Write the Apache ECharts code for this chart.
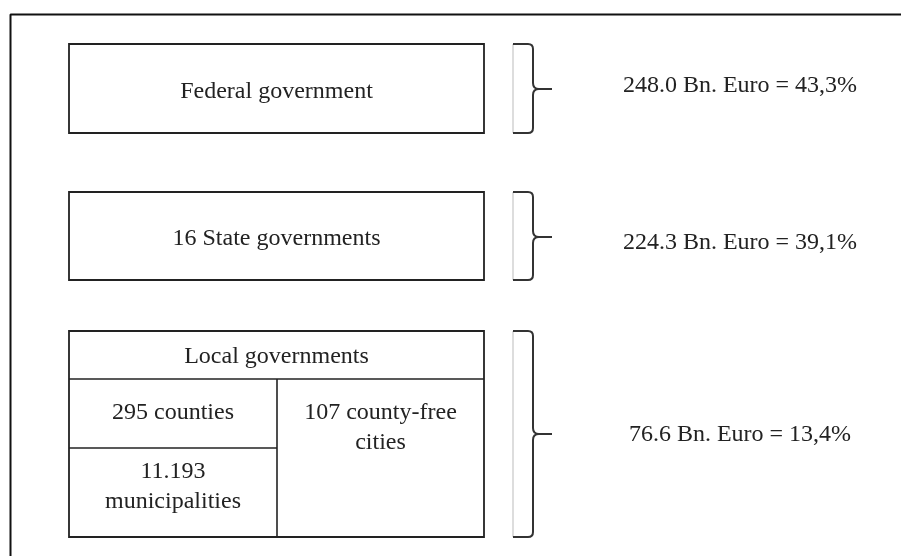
<!DOCTYPE html>
<html><head><meta charset="utf-8">
<script src="https://cdn.jsdelivr.net/npm/echarts@6/dist/echarts.min.js"></script>
<style>html,body{margin:0;padding:0;background:#fff}#chart{width:901px;height:556px}</style>
</head><body><div id="chart"></div>
<script>
// ---- data ----
const tiers = ['Federal government', '16 State governments', 'Local governments'];
const amountsBn = [248.0, 224.3, 76.6];
const sharesPct = [43.3, 39.1, 13.4];
const localUnits = ['295 counties', '11.193\nmunicipalities', '107 county-free\ncities'];

// ---- layout (axis units) ----
const tierBoxes = [[69, 44, 484, 133], [69, 192, 484, 280], [69, 331, 484, 537]];
const tierTextY = [92, 239, 357];
const braceX = [513, 533, 552];
const braceMidY = [89, 237, 434];
const labelCenter = [740, [86, 243, 435]];
const localHeaderBottom = 379;
const localSplitX = 277;
const localSplitY = 448;
const localTextPos = [[173, 413], [173, 487], [380.5, 428]];
const framePts = [[10.5, 556], [10.5, 14.5], [901, 14.5]];

const FONT = '24px "Liberation Serif", "Times New Roman", serif';
const INK = '#222';

function fmtLabel(i) {
  return amountsBn[i].toFixed(1) + ' Bn. Euro = ' + sharesPct[i].toFixed(1).replace('.', ',') + '%';
}

function txt(api, pt, text) {
  const p = api.coord(pt);
  return { type: 'text', style: { text: text, x: p[0], y: p[1], font: FONT, fill: INK, align: 'center', verticalAlign: 'middle', lineHeight: 30 } };
}
function seg(api, a, b, w, color) {
  const p = api.coord(a), q = api.coord(b);
  return { type: 'line', shape: { x1: p[0], y1: p[1], x2: q[0], y2: q[1] }, style: { stroke: color || INK, lineWidth: w || 1.6 } };
}

const chart = echarts.init(document.getElementById('chart'), null, { renderer: 'canvas' });
chart.setOption({
  animation: false,
  backgroundColor: '#fff',
  grid: { left: 0, right: 0, top: 0, bottom: 0 },
  xAxis: { type: 'value', min: 0, max: 901, show: false },
  yAxis: { type: 'value', min: 0, max: 556, inverse: true, show: false },
  series: [
    {
      type: 'custom',
      coordinateSystem: 'cartesian2d',
      silent: true,
      data: tiers.map((t, i) => [i]),
      renderItem: function (params, api) {
        const i = api.value(0);
        const b = tierBoxes[i];
        const p0 = api.coord([b[0], b[1]]), p1 = api.coord([b[2], b[3]]);
        const children = [];
        children.push({ type: 'rect', shape: { x: p0[0], y: p0[1], width: p1[0] - p0[0], height: p1[1] - p0[1] },
          style: { fill: '#fff', stroke: INK, lineWidth: 1.8 } });
        children.push(txt(api, [(b[0] + b[2]) / 2, tierTextY[i]], tiers[i]));
        if (i === 2) {
          children.push(seg(api, [b[0], localHeaderBottom], [b[2], localHeaderBottom]));
          children.push(seg(api, [localSplitX, localHeaderBottom], [localSplitX, b[3]]));
          children.push(seg(api, [b[0], localSplitY], [localSplitX, localSplitY]));
          localUnits.forEach((u, k) => children.push(txt(api, localTextPos[k], u)));
        }
        // brace
        const t = api.coord([braceX[0], b[1]])[1], bt = api.coord([braceX[0], b[3]])[1];
        const m = api.coord([braceX[0], braceMidY[i]])[1];
        const xl = api.coord([braceX[0], 0])[0], xr = api.coord([braceX[1], 0])[0], xp = api.coord([braceX[2], 0])[0];
        children.push({ type: 'line', shape: { x1: xl, y1: t, x2: xl, y2: bt }, style: { stroke: '#bbb', lineWidth: 1 } });
        const d = `M${xl},${t} L${xr - 5},${t} Q${xr},${t} ${xr},${t + 5} L${xr},${m - 6} Q${xr},${m} ${xr + 6},${m} L${xp},${m} ` +
                  `M${xr + 6},${m} Q${xr},${m} ${xr},${m + 6} L${xr},${bt - 5} Q${xr},${bt} ${xr - 5},${bt} L${xl},${bt}`;
        children.push({ type: 'path', shape: { pathData: d }, style: { fill: null, stroke: '#333', lineWidth: 2 } });
        children.push(txt(api, [labelCenter[0], labelCenter[1][i]], fmtLabel(i)));
        return { type: 'group', children: children };
      }
    },
    {
      type: 'line',
      silent: true,
      symbol: 'none',
      data: framePts,
      lineStyle: { color: '#111', width: 2 }
    }
  ]
});
</script></body></html>
